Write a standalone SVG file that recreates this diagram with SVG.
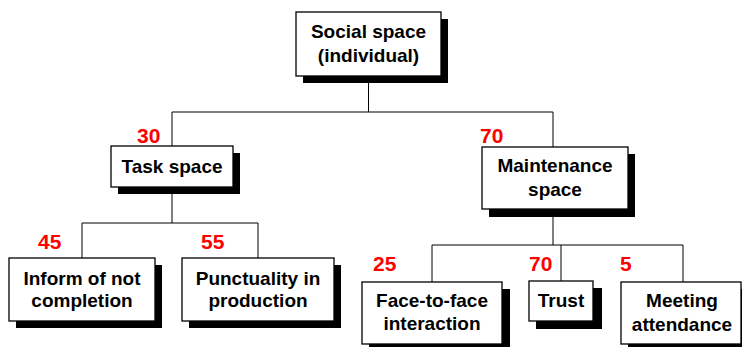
<svg xmlns="http://www.w3.org/2000/svg" width="742" height="347" viewBox="0 0 742 347">
<style>
.box{fill:#fff;stroke:#000;stroke-width:1.3}
.sh{fill:#000}
.t{font-family:"Liberation Sans",Arial,sans-serif;font-weight:bold;font-size:19px;text-anchor:middle;fill:#000}
.n{font-family:"Liberation Sans",Arial,sans-serif;font-weight:bold;font-size:21px;fill:#ff0000}
.c{fill:none;stroke:#000;stroke-width:1}
</style>
<rect width="742" height="347" fill="#fff"/>
<g id="connectors">
<path class="c" d="M368.5,76V112M172,112H553M172,112V146M553,112V147"/>
<path class="c" d="M172,187V223M82,223H258M82,223V258M258,223V258"/>
<path class="c" d="M553,209V245M432,245H683M432,245V282M561,245V281M683,245V282"/>
</g>
<g id="root">
<rect class="sh" x="303" y="19" width="145" height="64"/>
<rect class="box" x="296" y="12" width="145" height="64"/>
<text class="t" x="368.5" y="38">Social space</text>
<text class="t" x="368.5" y="62">(individual)</text>
</g>
<g id="task">
<rect class="sh" x="118" y="153" width="122" height="41"/>
<rect class="box" x="111" y="146" width="122" height="41"/>
<text class="t" x="172" y="173">Task space</text>
<text class="n" x="137" y="143">30</text>
</g>
<g id="maintenance">
<rect class="sh" x="489" y="154" width="146" height="63"/>
<rect class="box" x="482" y="147" width="146" height="62"/>
<text class="t" x="555" y="172">Maintenance</text>
<text class="t" x="555" y="196">space</text>
<text class="n" x="480" y="143">70</text>
</g>
<g id="inform">
<rect class="sh" x="16" y="265" width="146" height="63"/>
<rect class="box" x="9" y="258" width="146" height="63"/>
<text class="t" x="82" y="285">Inform of not</text>
<text class="t" x="82" y="307">completion</text>
<text class="n" x="38" y="249">45</text>
</g>
<g id="punctuality">
<rect class="sh" x="189" y="265" width="152" height="63"/>
<rect class="box" x="182" y="258" width="152" height="63"/>
<text class="t" x="258" y="285">Punctuality in</text>
<text class="t" x="258" y="307">production</text>
<text class="n" x="201" y="249">55</text>
</g>
<g id="face">
<rect class="sh" x="369" y="289" width="141" height="62"/>
<rect class="box" x="362" y="282" width="140" height="62"/>
<text class="t" x="432" y="307">Face-to-face</text>
<text class="t" x="432" y="330">interaction</text>
<text class="n" x="373" y="271">25</text>
</g>
<g id="trust">
<rect class="sh" x="536" y="288" width="66" height="41"/>
<rect class="box" x="529" y="281" width="64" height="40"/>
<text class="t" x="561" y="307">Trust</text>
<text class="n" x="529" y="271">70</text>
</g>
<g id="meeting">
<rect class="sh" x="628" y="289" width="120" height="62"/>
<rect class="box" x="621" y="282" width="120" height="62"/>
<text class="t" x="682" y="307">Meeting</text>
<text class="t" x="682" y="331">attendance</text>
<text class="n" x="620" y="271">5</text>
</g>
</svg>
